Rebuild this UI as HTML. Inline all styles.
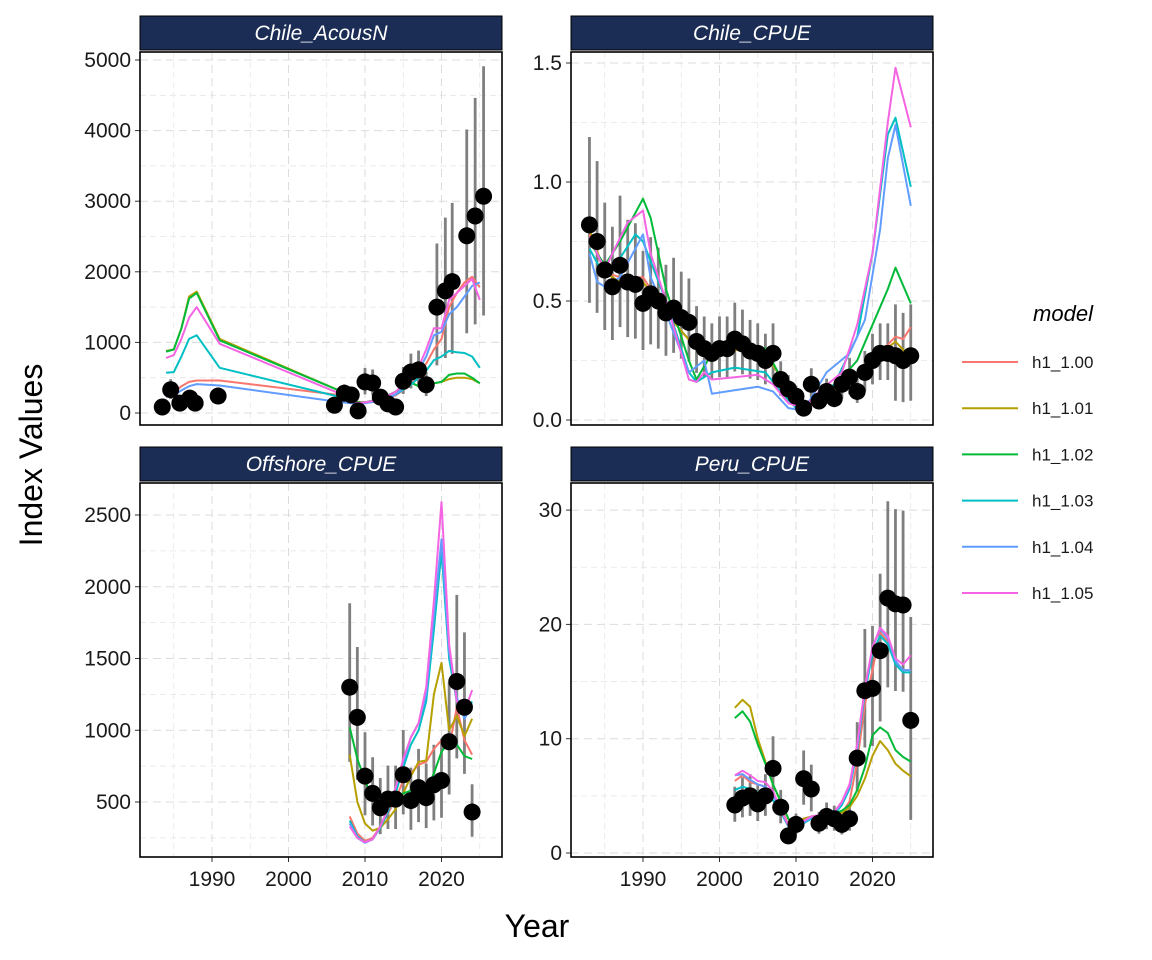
<!DOCTYPE html>
<html><head><meta charset="utf-8"><style>
html,body{margin:0;padding:0;background:#fff;}
svg{display:block;font-family:"Liberation Sans",Arial,sans-serif;}
</style></head><body>
<svg id="s" width="1152" height="960" xmlns="http://www.w3.org/2000/svg"></svg>
<script>
var C={r:"#F8766D",o:"#B79F00",g:"#00BA38",t:"#00BFC4",b:"#619CFF",p:"#F564E3"};
var order=["r","o","g","t","b","p"];
function kv(o){var a=[];for(var k in o)a.push([+k,o[k]]);a.sort(function(x,y){return x[0]-y[0]});return a;}
var P=[
{name:"Chile_AcousN",x0:140,x1:502,y0:52,y1:425,sx:function(y){return 212+(y-1990)*7.65},sy:function(v){return 413-v*0.0706},
ticks:[0,1000,2000,3000,4000,5000],minor:[500,1500,2500,3500,4500],lab:function(v){return v},
pts:{1983.5:85,1984.6:330,1985.8:140,1987.1:210,1987.8:140,1990.8:240,2006:110,2007.3:280,2008.2:255,2009.1:30,2010:440,2011:425,2012:225,2013:130,2014:85,2015:450,2016:580,2017:610,2018:400,2019.4:1500,2020.5:1730,2021.4:1860,2023.3:2510,2024.4:2790,2025.5:3070},
lines:{
r:{1984:260,1985:290,1986:380,1987:440,1988:460,1991:460,2007:250,2008:200,2009:160,2010:150,2012:180,2014:250,2016:400,2017:550,2018:700,2019:900,2020:1050,2021:1500,2022:1700,2023:1850,2024:1930,2025:1780},
o:{1984:880,1985:900,1986:1200,1987:1650,1988:1720,1991:1050,2007:300,2008:200,2009:150,2010:150,2012:200,2014:300,2015:380,2016:430,2017:380,2018:400,2019:420,2020:440,2021:480,2022:500,2023:500,2024:480,2025:420},
g:{1984:870,1985:900,1986:1200,1987:1620,1988:1700,1991:1030,2007:300,2008:210,2009:150,2010:150,2012:200,2014:300,2015:380,2016:430,2017:380,2018:400,2019:420,2020:440,2021:540,2022:560,2023:560,2024:500,2025:420},
t:{1984:570,1985:580,1986:800,1987:1050,1988:1100,1991:640,2007:220,2008:170,2009:140,2010:150,2012:180,2014:260,2016:400,2017:500,2018:600,2019:750,2020:800,2021:880,2022:860,2023:850,2024:800,2025:640},
b:{1984:230,1985:250,1986:320,1987:380,1988:410,1991:390,2007:150,2008:140,2009:130,2010:140,2012:170,2014:260,2016:450,2017:600,2018:800,2019:1100,2020:1150,2021:1400,2022:1500,2023:1650,2024:1800,2025:1850},
p:{1984:780,1985:820,1986:1050,1987:1350,1988:1500,1991:980,2007:260,2008:180,2009:140,2010:150,2012:190,2014:300,2015:400,2016:500,2017:650,2018:900,2019:1200,2020:1200,2021:1600,2022:1700,2023:1800,2024:1900,2025:1600}}},
{name:"Chile_CPUE",x0:571,x1:933,y0:52,y1:425,sx:function(y){return 643+(y-1990)*7.65},sy:function(v){return 420-v*238},
ticks:[0,0.5,1,1.5],minor:[0.25,0.75,1.25],lab:function(v){return v.toFixed(1)},
pts:{1983:0.82,1984:0.75,1985:0.63,1986:0.56,1987:0.65,1988:0.58,1989:0.57,1990:0.49,1991:0.53,1992:0.5,1993:0.45,1994:0.47,1995:0.43,1996:0.41,1997:0.33,1998:0.3,1999:0.28,2000:0.3,2001:0.3,2002:0.34,2003:0.32,2004:0.29,2005:0.28,2006:0.25,2007:0.28,2008:0.17,2009:0.13,2010:0.1,2011:0.05,2012:0.15,2013:0.08,2014:0.12,2015:0.09,2016:0.15,2017:0.18,2018:0.12,2019:0.2,2020:0.25,2021:0.28,2022:0.28,2023:0.27,2024:0.25,2025:0.27},
lines:{
r:{1983:0.78,1985:0.62,1987:0.6,1990:0.6,1993:0.45,1997:0.3,2000:0.28,2003:0.3,2006:0.28,2008:0.18,2010:0.07,2012:0.08,2015:0.12,2018:0.18,2020:0.25,2023:0.35,2024:0.34,2025:0.39},
o:{1983:0.8,1985:0.62,1987:0.58,1990:0.58,1993:0.45,1997:0.3,2000:0.28,2003:0.3,2006:0.28,2008:0.18,2010:0.07,2012:0.08,2015:0.12,2018:0.18,2020:0.25,2023:0.33,2025:0.26},
g:{1983:0.75,1985:0.65,1987:0.75,1989:0.87,1990:0.93,1991:0.85,1993:0.55,1996:0.25,1997:0.17,1999:0.28,2002:0.32,2006:0.3,2008:0.18,2010:0.07,2012:0.08,2015:0.14,2018:0.25,2020:0.4,2022:0.55,2023:0.64,2025:0.49},
t:{1983:0.72,1985:0.6,1987:0.68,1989:0.78,1990:0.75,1993:0.5,1996:0.2,1997:0.16,1999:0.2,2002:0.22,2006:0.2,2008:0.12,2010:0.05,2012:0.07,2015:0.15,2018:0.35,2020:0.7,2022:1.2,2023:1.27,2025:0.98},
b:{1983:0.7,1984:0.58,1985:0.56,1987:0.6,1989:0.72,1990:0.78,1991:0.6,1993:0.45,1996:0.2,1998:0.25,1999:0.11,2001:0.12,2005:0.14,2007:0.12,2009:0.05,2011:0.04,2014:0.2,2017:0.28,2019:0.42,2021:0.8,2022:1.1,2023:1.24,2025:0.9},
p:{1983:0.77,1985:0.63,1986:0.7,1988:0.83,1990:0.88,1991:0.7,1993:0.5,1996:0.17,1997:0.16,1998:0.2,1999:0.17,2002:0.18,2005:0.19,2007:0.15,2009:0.07,2011:0.05,2013:0.12,2016:0.2,2018:0.4,2020:0.7,2022:1.25,2023:1.48,2025:1.23}}},
{name:"Offshore_CPUE",x0:140,x1:502,y0:483,y1:857,sx:function(y){return 212+(y-1990)*7.65},sy:function(v){return 802-(v-500)*0.1435},
ticks:[500,1000,1500,2000,2500],minor:[250,750,1250,1750,2250],lab:function(v){return v},
pts:{2008:1300,2009:1090,2010:680,2011:560,2012:460,2013:520,2014:520,2015:690,2016:510,2017:600,2018:530,2019:620,2020:650,2021:920,2022:1340,2023:1160,2024:430},
lines:{
o:{2008:830,2009:500,2010:350,2011:300,2012:320,2013:380,2014:450,2015:560,2016:680,2017:780,2018:790,2019:1250,2020:1470,2021:1000,2022:1100,2023:960,2024:1080},
g:{2008:1020,2009:800,2010:650,2011:520,2012:480,2013:500,2014:520,2015:560,2016:580,2017:560,2018:580,2019:700,2020:850,2021:920,2022:900,2023:820,2024:800},
r:{2008:400,2009:280,2010:230,2011:250,2012:330,2013:420,2014:520,2015:650,2016:700,2017:760,2018:780,2019:870,2020:930,2021:880,2022:1160,2023:930,2024:830},
t:{2008:370,2009:260,2010:220,2011:240,2012:320,2013:430,2014:560,2015:740,2016:900,2017:1000,2018:1200,2019:1700,2020:2250,2021:1500,2022:1200,2023:1100,2024:1200},
b:{2008:350,2009:250,2010:215,2011:240,2012:330,2013:450,2014:600,2015:780,2016:950,2017:1050,2018:1250,2019:1800,2020:2330,2021:1550,2022:1230,2023:1080,2024:1180},
p:{2008:330,2009:250,2010:220,2011:240,2012:330,2013:450,2014:600,2015:800,2016:950,2017:1050,2018:1300,2019:1900,2020:2590,2021:1600,2022:1200,2023:1130,2024:1280}}},
{name:"Peru_CPUE",x0:571,x1:933,y0:483,y1:857,sx:function(y){return 643+(y-1990)*7.65},sy:function(v){return 853-v*11.43},
ticks:[0,10,20,30],minor:[5,15,25],lab:function(v){return v},
pts:{2002:4.2,2003:4.8,2004:5.0,2005:4.3,2006:5.0,2007:7.4,2008:4.0,2009:1.5,2010:2.5,2011:6.5,2012:5.6,2013:2.6,2014:3.2,2015:3.0,2016:2.5,2017:3.0,2018:8.3,2019:14.2,2020:14.4,2021:17.7,2022:22.3,2023:21.8,2024:21.7,2025:11.6},
lines:{
o:{2002:12.7,2003:13.4,2004:12.8,2005:10,2006:8,2007:6,2008:4.5,2009:3,2010:2,2011:3,2012:3.2,2013:3.2,2014:3.5,2015:3.5,2016:3.5,2017:4,2018:5,2019:6.5,2020:8.5,2021:9.8,2022:9,2023:7.8,2024:7.2,2025:6.7},
g:{2002:11.8,2003:12.4,2004:11.5,2005:9.5,2006:7.8,2007:6,2008:4.5,2009:3,2010:2,2011:2.8,2012:3,2013:3.2,2014:3.3,2015:3.5,2016:3.7,2017:4.2,2018:5.5,2019:7.5,2020:10.3,2021:11,2022:10.5,2023:9,2024:8.4,2025:8},
r:{2002:6.3,2003:6.8,2004:6.2,2005:6,2006:5.8,2007:5,2008:4,2009:2.5,2010:2.3,2011:3,2012:3,2013:3.2,2014:3,2015:3,2016:3.5,2017:4.5,2018:8,2019:13,2020:16,2021:19.3,2022:18.5,2023:16.5,2024:16,2025:16},
t:{2002:5.5,2003:5.8,2004:5.6,2005:5.3,2006:5.2,2007:4.6,2008:3.6,2009:2.3,2010:1.9,2011:2.6,2012:3,2013:3.1,2014:3.2,2015:3.4,2016:4.2,2017:5.6,2018:9,2019:14,2020:17.5,2021:19,2022:18.3,2023:16.5,2024:15.8,2025:15.8},
b:{2002:6.8,2003:6.9,2004:6.4,2005:6,2006:5.8,2007:5,2008:3.8,2009:2.4,2010:2,2011:2.7,2012:3.1,2013:3.2,2014:3.3,2015:3.5,2016:4.4,2017:5.8,2018:9.3,2019:14.3,2020:18,2021:19.6,2022:18.8,2023:16.8,2024:16,2025:16},
p:{2002:6.8,2003:7.2,2004:6.8,2005:6.3,2006:6.2,2007:5.4,2008:3.8,2009:2.4,2010:2,2011:2.8,2012:3.2,2013:3.3,2014:3.4,2015:3.6,2016:4.5,2017:6,2018:9.5,2019:14.5,2020:18,2021:19.7,2022:19,2023:17,2024:16.5,2025:17.3}}}
];
var h="";
P.forEach(function(p,pi){
  var w=p.x1-p.x0;
  h+='<defs><clipPath id="c'+pi+'"><rect x="'+p.x0+'" y="'+p.y0+'" width="'+w+'" height="'+(p.y1-p.y0)+'"/></clipPath></defs>';
  [1985,1995,2005,2015,2025].forEach(function(y){var x=p.sx(y);h+='<line x1="'+x+'" x2="'+x+'" y1="'+p.y0+'" y2="'+p.y1+'" stroke="#e6e6e6" stroke-width="0.8" stroke-dasharray="6,4"/>';});
  p.minor.forEach(function(v){var y=p.sy(v);if(y>p.y0&&y<p.y1)h+='<line x1="'+p.x0+'" x2="'+p.x1+'" y1="'+y+'" y2="'+y+'" stroke="#e6e6e6" stroke-width="0.8" stroke-dasharray="6,4"/>';});
  [1990,2000,2010,2020].forEach(function(y){var x=p.sx(y);h+='<line x1="'+x+'" x2="'+x+'" y1="'+p.y0+'" y2="'+p.y1+'" stroke="#dcdcdc" stroke-width="1" stroke-dasharray="8,5"/>';
    if(pi>=2){h+='<line x1="'+x+'" x2="'+x+'" y1="'+p.y1+'" y2="'+(p.y1+5)+'" stroke="#333" stroke-width="1"/>';
    h+='<text x="'+x+'" y="'+(p.y1+29)+'" font-size="21" text-anchor="middle" fill="#1a1a1a">'+y+'</text>';}});
  p.ticks.forEach(function(v){var y=p.sy(v);h+='<line x1="'+p.x0+'" x2="'+p.x1+'" y1="'+y+'" y2="'+y+'" stroke="#dcdcdc" stroke-width="1" stroke-dasharray="8,5"/>';
    h+='<line x1="'+(p.x0-5)+'" x2="'+p.x0+'" y1="'+y+'" y2="'+y+'" stroke="#333" stroke-width="1"/>';
    h+='<text x="'+(p.x0-9)+'" y="'+(y+7)+'" font-size="21" text-anchor="end" fill="#1a1a1a">'+p.lab(v)+'</text>';});
  h+='<g clip-path="url(#c'+pi+')">';
  var pts=kv(p.pts),n=pts.length;
  pts.forEach(function(d,i){var lo=0.6,hi=1.45;if(pi==0&&d[0]>2018){lo=0.45;hi=1.6;}if(pi==1&&i>=n-3){lo=0.3;hi=1.8;}if(pi==3){lo=0.65;hi=1.38;if(i==n-1){lo=0.25;hi=1.78;}}
    h+='<line x1="'+p.sx(d[0])+'" x2="'+p.sx(d[0])+'" y1="'+p.sy(d[1]*lo)+'" y2="'+p.sy(d[1]*hi)+'" stroke="#7f7f7f" stroke-width="2.8"/>';});
  order.forEach(function(k){var L=p.lines[k];if(!L)return;var a=kv(L);
    h+='<polyline fill="none" stroke="'+C[k]+'" stroke-width="2" stroke-linejoin="round" points="'+a.map(function(d){return p.sx(d[0]).toFixed(1)+','+p.sy(d[1]).toFixed(1)}).join(' ')+'"/>';});
  pts.forEach(function(d){h+='<circle cx="'+p.sx(d[0])+'" cy="'+p.sy(d[1])+'" r="8.5" fill="#000"/>';});
  h+='</g>';
  h+='<rect x="'+p.x0+'" y="'+p.y0+'" width="'+w+'" height="'+(p.y1-p.y0)+'" fill="none" stroke="#000" stroke-width="1.6"/>';
  h+='<rect x="'+p.x0+'" y="'+(p.y0-36)+'" width="'+w+'" height="34" fill="#1b2d54" stroke="#000" stroke-width="1"/>';
  h+='<text x="'+(p.x0+w/2)+'" y="'+(p.y0-12)+'" font-size="21" font-style="italic" text-anchor="middle" fill="#fff">'+p.name+'</text>';
});
h+='<text x="537" y="937" font-size="32" text-anchor="middle" fill="#000">Year</text>';
h+='<text transform="translate(42,455) rotate(-90)" font-size="32" text-anchor="middle" fill="#000">Index Values</text>';
h+='<text x="1063" y="321" font-size="22" font-style="italic" text-anchor="middle" fill="#000">model</text>';
var labs=["h1_1.00","h1_1.01","h1_1.02","h1_1.03","h1_1.04","h1_1.05"];
order.forEach(function(k,i){var y=362+i*46.2;h+='<line x1="962" x2="1018" y1="'+y+'" y2="'+y+'" stroke="'+C[k]+'" stroke-width="2"/>';
  h+='<text x="1032" y="'+(y+6)+'" font-size="17" fill="#1a1a1a">'+labs[i]+'</text>';});
document.getElementById("s").innerHTML=h;
</script>
</body></html>
